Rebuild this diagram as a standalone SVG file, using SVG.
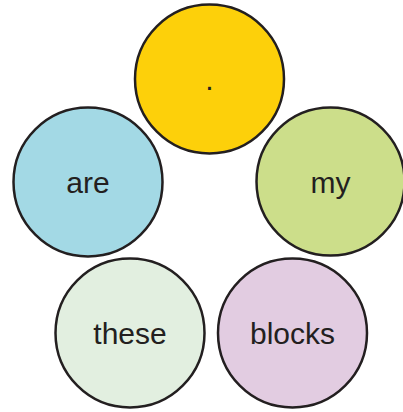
<svg xmlns="http://www.w3.org/2000/svg" width="403" height="412" viewBox="0 0 403 412">
<style>
.n{stroke:#231f20;stroke-width:2.5}
.t{font-family:"Liberation Sans",Arial,sans-serif;font-size:30px;fill:#231f20;text-anchor:middle}
</style>
<rect width="403" height="412" fill="#fff"/>
<g id="connectors"/>
<g id="node-dot"><circle class="n" cx="209.5" cy="79" r="74.5" fill="#fdd00a"/><text class="t" x="209.5" y="90">.</text></g>
<g id="node-are"><circle class="n" cx="88" cy="182" r="74.5" fill="#a3d9e5"/><text class="t" x="88" y="193">are</text></g>
<g id="node-my"><circle class="n" cx="330.5" cy="181.5" r="74" fill="#ccde8a"/><text class="t" x="330.5" y="193">my</text></g>
<g id="node-these"><circle class="n" cx="130" cy="333" r="74.5" fill="#e2efe0"/><text class="t" x="130" y="344">these</text></g>
<g id="node-blocks"><circle class="n" cx="292.5" cy="333" r="74.5" fill="#e2cce1"/><text class="t" x="292.5" y="344">blocks</text></g>
</svg>
